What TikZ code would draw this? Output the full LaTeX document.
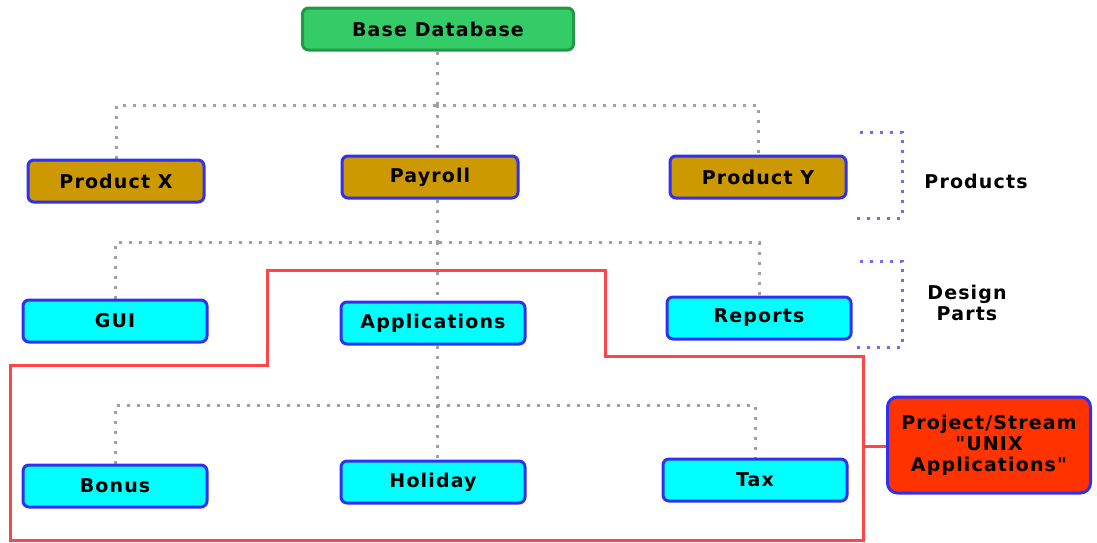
\documentclass[tikz,border=0pt]{standalone}
\usepackage{fontspec}
\usetikzlibrary{backgrounds}
\newfontfamily\boxfont[LetterSpace=6]{DejaVu Sans}

\definecolor{boxblue}{HTML}{3030F0}
\definecolor{prodgold}{HTML}{CC9900}
\definecolor{partcyan}{HTML}{00FFFF}
\definecolor{basegreen}{HTML}{33CC66}
\definecolor{baseedge}{HTML}{229944}
\definecolor{linkgray}{HTML}{A0A0A0}
\definecolor{bracketblue}{HTML}{6A6AFF}
\definecolor{streamred}{HTML}{FF4545}
\definecolor{projectred}{HTML}{FF3300}

\tikzset{
  box/.style={draw=boxblue, line width=3pt, rounded corners=6pt, inner sep=0pt,
    minimum width=184pt, minimum height=42pt,
    font=\boxfont\bfseries\fontsize{19}{21}\selectfont},
  product/.style={box, fill=prodgold, minimum width=176pt},
  part/.style={box, fill=partcyan},
  link/.style={draw=linkgray, line width=3pt, dash pattern=on 3pt off 7pt},
  bracket/.style={draw=bracketblue, line width=3pt, dash pattern=on 3pt off 7pt},
  stream/.style={draw=streamred, line width=3pt},
  label/.style={font=\boxfont\bfseries\fontsize{19}{21}\selectfont, align=center}
}

\begin{document}
\begin{tikzpicture}[x=1pt,y=-1pt]
        \useasboundingbox (0,0) rectangle (1097,542);

        % draw nodes
        \node[box, fill=basegreen, draw=baseedge, minimum width=271pt] (base) at (438,29) {Base Database};
        \node[product] (prodx) at (116,181) {Product X};
        \node[product] (payroll) at (430,177) {Payroll};
        \node[product] (prody) at (758,177) {Product Y};
        \node[part] (gui) at (115,321) {GUI};
        \node[part] (apps) at (433,323) {Applications};
        \node[part] (reports) at (759,318) {Reports};
        \node[part] (bonus) at (115,486) {Bonus};
        \node[part] (holiday) at (433,482) {Holiday};
        \node[part] (tax) at (755,480) {Tax};
        \node[box, fill=projectred, rounded corners=10pt, minimum width=203pt, minimum height=96pt, align=center]
            (project) at (989,445) {Project/Stream\\"UNIX\\Applications"};

        % draw labels
        \node[label] (products) at (976,181) {Products};
        \node[label] (design) at (967,303) {Design\\Parts};

        % draw dotted links
        \coordinate (prodbar) at (437,105);
        \coordinate (partbar) at (437,242);
        \coordinate (taskbar) at (437,405);
        \begin{scope}[on background layer]
        \draw[link] (base.south -| prodbar) -- (prodbar);
        \draw[link] (prodx.north) |- (prodbar) -| (prody.north);
        \draw[link] (prodbar) -- (prodbar |- payroll.north);
        \draw[link] (payroll.south -| partbar) -- (partbar);
        \draw[link] (gui.north) |- (partbar) -| (reports.north);
        \draw[link] (partbar) -- (partbar |- apps.north);
        \draw[link] (apps.south -| taskbar) -- (taskbar);
        \draw[link] (bonus.north) |- (taskbar) -| (tax.north);
        \draw[link] (taskbar) -- (taskbar |- holiday.north);
        \end{scope}

        % draw brackets
        \draw[bracket] (860,132) -- (902,132) -- (902,218) -- (857,218);
        \draw[bracket] (860,261) -- (902,261) -- (902,347) -- (857,347);

        % draw stream outline
        \draw[stream] (267,270) -- (605,270) -- (605,356) -- (863,356) -- (863,540)
            -- (10,540) -- (10,365) -- (267,365) -- cycle;
        \coordinate (streamedge) at (863,446);
        \draw[stream] (streamedge) -- (project.west |- streamedge);
\end{tikzpicture}
\end{document}
